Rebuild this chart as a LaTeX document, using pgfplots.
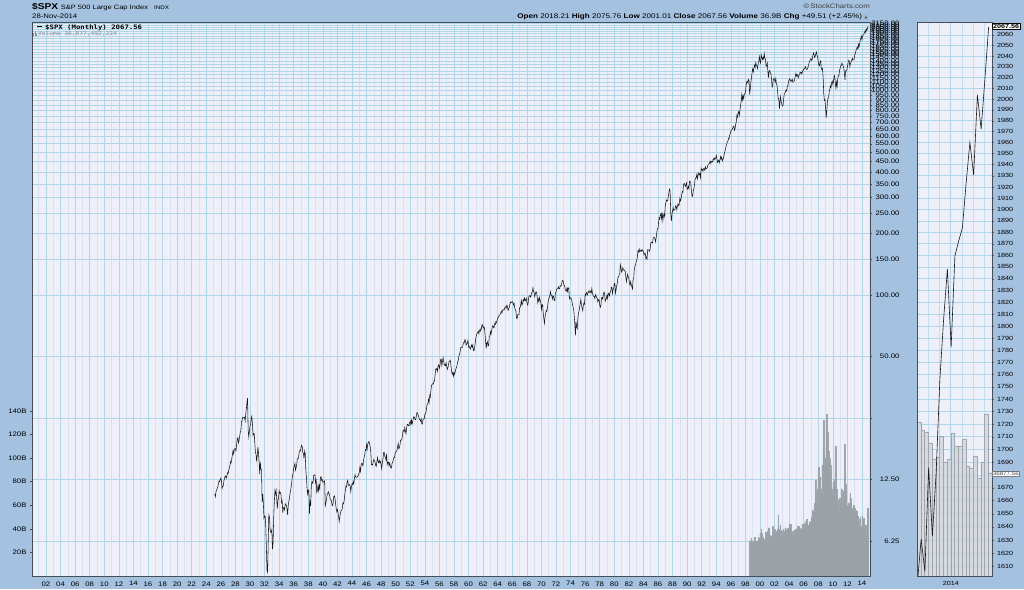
\documentclass[border=0pt]{standalone}
\usepackage{pgfplots}
\pgfplotsset{compat=1.18}
\usepackage{pgfplotstable}
\usepackage{fontspec}
\setmainfont{Liberation Sans}[FakeStretch=1.2]
\newfontfamily\smono{DejaVu Sans Mono}[FakeStretch=1.2]
\newfontfamily\dejavu{DejaVu Sans}

\definecolor{bgblue}{RGB}{164,193,224}
\definecolor{plotbg}{RGB}{238,239,248}
\definecolor{gridmaj}{RGB}{176,214,234}
\definecolor{gridmin}{RGB}{214,225,241}
\definecolor{volfill}{RGB}{172,180,185}
\definecolor{voldraw}{RGB}{150,158,163}
\definecolor{rvolfill}{RGB}{206,210,215}
\definecolor{rvoldraw}{RGB}{160,166,172}
\definecolor{frame}{RGB}{70,78,88}

% S&P 500 monthly closes, Mar 1925 - Nov 2014
\pgfplotstableread[row sep=\\]{
v\\
10.6\\10.3\\10.9\\11.1\\11.3\\11.5\\11.9\\12.3\\12.2\\12.5\\
12.7\\12.3\\11.3\\11.6\\11.6\\12.3\\12.6\\13.0\\13.0\\12.7\\13.0\\13.5\\
13.4\\13.9\\14.2\\14.6\\15.3\\15.1\\15.8\\16.5\\17.3\\16.7\\17.4\\17.7\\
17.6\\17.3\\18.6\\19.8\\20.0\\18.9\\19.4\\20.4\\21.3\\21.7\\24.0\\24.4\\
25.2\\25.1\\25.1\\25.2\\24.2\\26.2\\27.6\\29.8\\31.3\\21.7\\20.2\\21.5\\
22.8\\23.3\\24.8\\25.5\\23.5\\20.5\\21.0\\20.9\\18.7\\16.9\\16.6\\15.3\\
16.4\\18.0\\17.0\\15.2\\13.3\\15.2\\14.0\\14.0\\9.7\\10.6\\9.6\\8.1\\
8.3\\8.3\\7.3\\5.8\\4.5\\4.4\\6.1\\8.4\\8.2\\7.2\\6.9\\6.9\\
7.1\\5.7\\6.1\\8.0\\9.6\\11.0\\10.6\\11.1\\10.1\\9.0\\9.9\\10.1\\
11.0\\10.7\\10.8\\10.6\\9.6\\9.8\\8.6\\9.1\\9.1\\8.9\\9.5\\9.5\\
9.3\\9.0\\8.4\\9.3\\9.8\\10.1\\10.7\\11.1\\11.6\\12.3\\13.1\\13.4\\
14.3\\14.6\\15.0\\13.9\\14.3\\14.8\\15.8\\15.8\\16.1\\17.0\\17.3\\17.2\\
17.9\\18.4\\18.1\\16.9\\16.8\\15.8\\17.2\\16.7\\13.8\\12.8\\11.3\\10.6\\
11.1\\11.0\\8.5\\9.7\\9.3\\11.6\\12.2\\12.0\\12.2\\13.1\\13.1\\13.2\\
12.0\\12.4\\10.8\\11.0\\11.7\\11.0\\11.7\\11.3\\12.8\\12.9\\12.4\\12.5\\
12.1\\12.2\\12.2\\12.3\\9.3\\9.6\\10.0\\10.5\\10.7\\10.9\\10.6\\10.6\\
10.0\\9.9\\9.9\\9.4\\9.3\\9.6\\10.3\\10.4\\10.1\\9.5\\9.0\\8.7\\
8.9\\8.6\\8.2\\7.8\\8.2\\8.6\\8.8\\8.8\\9.0\\9.6\\9.5\\9.8\\
10.5\\11.0\\11.6\\11.5\\12.2\\12.4\\11.7\\11.7\\11.8\\11.6\\10.9\\11.5\\
11.9\\11.8\\12.2\\11.9\\12.6\\13.2\\12.9\\12.8\\12.8\\12.9\\13.0\\13.3\\
13.5\\14.3\\13.7\\14.7\\15.0\\14.9\\14.6\\15.5\\16.1\\16.5\\17.5\\17.4\\
18.5\\17.6\\18.7\\19.0\\19.2\\18.6\\18.1\\17.0\\14.8\\14.8\\14.7\\15.3\\
15.7\\15.4\\15.2\\14.6\\14.5\\15.3\\16.0\\15.4\\15.1\\15.5\\15.1\\15.3\\
14.7\\14.1\\15.1\\15.8\\16.9\\17.0\\16.2\\16.1\\15.6\\16.7\\14.8\\15.2\\
15.2\\14.6\\15.1\\14.7\\14.2\\14.2\\15.0\\15.2\\15.6\\16.0\\16.0\\16.8\\
17.05\\17.22\\17.29\\17.96\\18.78\\17.69\\17.84\\18.42\\19.45\\19.53\\19.51\\20.41\\
21.66\\21.80\\21.40\\22.43\\21.52\\20.96\\22.40\\23.28\\23.26\\22.94\\22.88\\23.77\\
24.14\\23.26\\24.37\\23.32\\23.86\\24.96\\25.40\\25.03\\24.54\\24.52\\25.66\\26.57\\
26.38\\25.90\\25.29\\24.62\\24.54\\24.14\\24.75\\23.32\\23.35\\24.54\\24.76\\24.81\\
26.08\\26.15\\26.94\\28.26\\29.19\\29.21\\30.88\\29.83\\32.31\\31.68\\34.24\\35.98\\
36.63\\36.76\\36.58\\37.96\\37.91\\41.03\\43.52\\43.18\\43.67\\42.34\\45.51\\45.48\\
43.82\\45.34\\48.48\\48.38\\45.20\\46.97\\49.39\\47.51\\45.35\\45.58\\45.08\\46.67\\
44.72\\43.26\\44.11\\45.74\\47.43\\47.37\\47.91\\45.22\\42.42\\41.06\\41.72\\39.99\\
41.70\\40.84\\42.10\\43.44\\44.09\\45.24\\47.19\\47.75\\50.06\\51.33\\52.48\\55.21\\
55.42\\55.41\\55.44\\57.59\\58.68\\58.47\\60.51\\59.60\\56.88\\57.52\\58.28\\59.89\\
55.61\\56.12\\55.34\\54.37\\55.83\\56.92\\55.51\\56.96\\53.52\\53.39\\55.54\\58.11\\
61.78\\63.44\\65.06\\65.31\\66.56\\64.64\\66.76\\68.07\\66.73\\68.62\\71.32\\71.55\\
68.84\\69.96\\69.55\\65.24\\59.63\\54.75\\58.23\\59.12\\56.27\\56.52\\62.26\\63.10\\
66.20\\64.29\\66.57\\69.80\\70.80\\69.37\\69.13\\72.50\\71.70\\74.01\\73.23\\75.02\\
77.04\\77.80\\78.98\\79.46\\80.37\\81.69\\83.18\\81.83\\84.18\\84.86\\84.42\\84.75\\
87.56\\87.43\\86.16\\89.11\\88.42\\84.12\\85.25\\87.17\\89.96\\92.42\\91.61\\92.43\\
92.88\\91.22\\89.23\\91.06\\86.13\\84.74\\83.60\\77.10\\76.56\\80.20\\80.45\\80.33\\
86.61\\86.78\\90.20\\94.01\\89.08\\90.64\\94.75\\93.64\\96.71\\93.90\\94.00\\96.47\\
92.24\\89.36\\90.20\\97.59\\98.68\\99.58\\97.74\\98.86\\102.67\\103.41\\108.37\\103.86\\
103.01\\98.13\\101.51\\103.69\\103.46\\97.71\\91.83\\95.51\\93.12\\97.24\\93.81\\92.06\\
85.02\\89.50\\89.63\\81.52\\76.55\\72.72\\78.05\\81.52\\84.21\\83.25\\87.20\\92.15\\
95.88\\96.75\\100.31\\103.95\\99.63\\99.70\\95.58\\99.03\\98.34\\94.23\\93.99\\102.09\\
103.94\\106.57\\107.20\\107.67\\109.53\\107.14\\107.39\\111.09\\110.55\\111.58\\116.67\\118.05\\
116.03\\111.68\\111.52\\106.97\\104.95\\104.26\\108.22\\104.25\\108.43\\108.29\\95.96\\97.55\\
96.57\\96.22\\93.98\\90.31\\87.28\\86.00\\79.31\\72.15\\63.54\\73.90\\69.97\\68.56\\
76.98\\81.59\\83.36\\87.30\\91.15\\95.19\\88.75\\86.88\\83.87\\89.04\\91.24\\90.19\\
100.86\\99.71\\102.77\\101.64\\100.18\\104.28\\103.44\\102.91\\105.24\\102.90\\102.10\\107.46\\
102.03\\99.82\\98.42\\98.44\\96.12\\100.48\\98.85\\96.77\\96.53\\92.34\\94.83\\95.10\\
89.25\\87.04\\89.21\\96.83\\97.24\\95.53\\100.68\\103.29\\102.54\\93.15\\94.70\\96.11\\
99.93\\96.28\\101.59\\101.76\\99.08\\102.91\\103.81\\109.32\\109.32\\101.82\\106.16\\107.94\\
114.16\\113.66\\102.09\\106.29\\111.24\\114.24\\121.67\\122.38\\125.46\\127.47\\140.52\\135.76\\
129.55\\131.27\\136.00\\132.81\\132.59\\131.21\\130.92\\122.79\\116.18\\121.89\\126.35\\122.55\\
120.40\\113.11\\111.96\\116.44\\111.88\\109.61\\107.09\\119.51\\120.42\\133.71\\138.54\\140.64\\
145.30\\148.06\\152.96\\164.42\\162.39\\168.11\\162.56\\164.40\\166.07\\163.55\\166.40\\164.93\\
163.41\\157.06\\159.18\\160.05\\150.55\\153.18\\150.66\\166.68\\166.10\\166.09\\163.58\\167.24\\
179.63\\181.18\\180.66\\179.83\\189.55\\191.85\\190.92\\188.63\\182.08\\189.82\\202.17\\211.28\\
211.78\\226.92\\238.90\\235.52\\247.35\\250.84\\236.12\\252.93\\231.32\\243.98\\249.22\\242.17\\
274.08\\284.20\\291.70\\288.36\\290.10\\304.00\\318.66\\329.80\\321.83\\251.79\\230.30\\247.08\\
257.07\\267.82\\258.89\\261.33\\262.16\\273.50\\272.02\\261.52\\271.91\\278.97\\273.70\\277.72\\
297.47\\288.86\\294.87\\309.64\\320.52\\317.98\\346.08\\351.45\\349.15\\340.36\\345.99\\353.40\\
329.08\\331.89\\339.94\\330.80\\361.23\\358.02\\356.15\\322.56\\306.05\\304.00\\322.22\\330.22\\
343.93\\367.07\\375.22\\375.35\\389.83\\371.16\\387.81\\395.43\\387.86\\392.46\\375.22\\417.09\\
408.79\\412.70\\403.69\\414.95\\415.35\\408.14\\424.21\\414.03\\417.80\\418.68\\431.35\\435.71\\
438.78\\443.38\\451.67\\440.19\\450.19\\450.53\\448.13\\463.56\\458.93\\467.83\\461.79\\466.45\\
481.61\\467.14\\445.77\\450.91\\456.50\\444.27\\458.26\\475.49\\462.69\\472.35\\453.69\\459.27\\
470.42\\487.39\\500.71\\514.71\\533.40\\544.75\\562.06\\561.88\\584.41\\581.50\\605.37\\615.93\\
636.02\\640.43\\645.50\\654.17\\669.12\\670.63\\639.95\\651.99\\687.31\\705.27\\757.02\\740.74\\
786.16\\790.82\\757.12\\801.34\\848.28\\885.14\\954.29\\899.47\\947.28\\914.62\\955.40\\970.43\\
980.28\\1049.34\\1101.75\\1111.75\\1090.82\\1133.84\\1120.67\\957.28\\1017.01\\1098.67\\1163.63\\1229.23\\
1279.64\\1238.33\\1286.37\\1335.18\\1301.84\\1372.71\\1328.72\\1320.41\\1282.71\\1362.93\\1388.91\\1469.25\\
1394.5\\1366.4\\1498.6\\1452.4\\1420.6\\1454.6\\1430.8\\1517.7\\1436.5\\1429.4\\1315.2\\1320.3\\
1366.0\\1239.9\\1160.3\\1249.5\\1255.8\\1224.4\\1211.2\\1133.6\\1040.9\\1059.8\\1139.5\\1148.1\\
1130.2\\1106.7\\1147.4\\1076.9\\1067.1\\989.8\\911.6\\916.1\\815.3\\885.8\\936.3\\879.8\\
855.7\\841.2\\848.2\\916.9\\963.6\\974.5\\990.3\\1008.0\\996.0\\1050.7\\1058.2\\1111.9\\
1131.1\\1144.9\\1126.2\\1107.3\\1120.7\\1140.8\\1101.7\\1104.2\\1114.6\\1130.2\\1173.8\\1211.9\\
1181.3\\1203.6\\1180.6\\1156.9\\1191.5\\1191.3\\1234.2\\1220.3\\1228.8\\1207.0\\1249.5\\1248.3\\
1280.1\\1280.7\\1294.8\\1310.6\\1270.1\\1270.2\\1276.7\\1303.8\\1335.9\\1377.9\\1400.6\\1418.3\\
1438.2\\1406.8\\1420.9\\1482.4\\1530.6\\1503.4\\1455.3\\1474.0\\1526.8\\1549.4\\1481.1\\1468.4\\
1378.6\\1330.6\\1322.7\\1385.6\\1400.4\\1280.0\\1267.4\\1282.8\\1166.4\\968.8\\896.2\\903.3\\
825.9\\735.1\\797.9\\872.8\\919.1\\919.3\\987.5\\1020.6\\1057.1\\1036.2\\1095.6\\1115.1\\
1073.9\\1104.5\\1169.4\\1186.7\\1089.4\\1030.7\\1101.6\\1049.3\\1141.2\\1183.3\\1180.6\\1257.6\\
1286.1\\1327.2\\1325.8\\1363.6\\1345.2\\1320.6\\1292.3\\1218.9\\1131.4\\1253.3\\1247.0\\1257.6\\
1312.4\\1365.7\\1408.5\\1397.9\\1310.3\\1362.2\\1379.3\\1406.6\\1440.7\\1412.2\\1416.2\\1426.2\\
1498.1\\1514.7\\1569.2\\1597.6\\1630.7\\1606.3\\1685.7\\1633.0\\1681.6\\1756.5\\1805.8\\1848.4\\
1782.6\\1859.5\\1872.3\\1884.0\\1923.6\\1960.2\\1930.7\\2003.4\\1972.3\\2018.1\\2067.6\\
}\spxdata

% monthly volume (billions), Aug 1998 - Nov 2014
\pgfplotstableread[row sep=\\]{
v\\
30\\29\\32\\28\\29\\
30\\28\\31\\33\\30\\29\\30\\29\\30\\33\\31\\32\\
36\\34\\40\\36\\33\\32\\31\\30\\31\\37\\33\\35\\
38\\33\\41\\38\\35\\33\\34\\31\\33\\42\\37\\36\\
40\\37\\36\\38\\37\\40\\52\\40\\38\\43\\39\\35\\
38\\35\\40\\37\\38\\41\\40\\33\\39\\41\\36\\39\\
44\\40\\44\\40\\37\\36\\38\\35\\36\\39\\40\\38\\
40\\39\\42\\42\\40\\41\\38\\39\\40\\44\\40\\38\\
44\\41\\46\\40\\47\\48\\43\\42\\43\\45\\46\\40\\
48\\50\\56\\48\\55\\58\\62\\81\\60\\66\\74\\58\\
92\\72\\84\\70\\64\\74\\94\\68\\110\\132\\100\\92\\
96\\110\\137\\122\\118\\106\\95\\100\\94\\88\\74\\70\\
80\\78\\76\\82\\110\\88\\74\\70\\64\\62\\66\\56\\
66\\64\\74\\58\\66\\72\\64\\112\\84\\78\\70\\58\\
60\\62\\62\\60\\70\\66\\60\\52\\58\\56\\60\\52\\
58\\56\\54\\55\\52\\51\\48\\42\\43\\50\\41\\42\\
51\\46\\46\\49\\39\\39\\43\\35\\41\\58\\37\\
}\voldata

% 2014 inset: monthly closes and volume (billions), Apr 2013 - Nov 2014
\pgfplotstableread[row sep=\\]{
p v\\
1597.57 55.0\\1630.74 52.1\\1606.28 51.4\\1685.73 47.5\\1632.97 41.8\\
1681.55 42.5\\1756.54 50.0\\1805.81 40.7\\1848.36 41.8\\1782.59 51.1\\
1859.45 46.4\\1872.34 46.4\\1883.95 48.9\\1923.57 39.3\\1960.23 38.6\\
1930.67 42.9\\2003.37 35.0\\1972.29 40.7\\2018.05 57.9\\2067.56 36.9\\
}\insetdata

\pgfplotsset{
  tl/.style={font=\fontsize{6.5}{7}\selectfont},
  insetlog/.style={
    y coord trafo/.code={\pgfmathparse{ln(##1)-7.3}},
    y coord inv trafo/.code={\pgfmathparse{exp(##1+7.3)}},
  },
}

\begin{document}
\begin{tikzpicture}[x=1pt,y=1pt]
\useasboundingbox (0,0) rectangle (1024,589);
\fill[bgblue] (0,0) rectangle (1024,589);

% ---------- main price panel ----------
\begin{axis}[
  at={(32pt,13pt)}, anchor=south west, scale only axis,
  width=838pt, height=554pt,
  xmin=1900.08, xmax=2015.1,
  ymode=log, ymin=4.213, ymax=2169,
  axis background/.style={fill=plotbg},
  axis line style={draw=frame, line width=0.6pt},
  xtick={1902,1904,...,2014},
  xticklabels={02,04,06,08,10,12,14,16,18,20,22,24,26,28,30,32,34,36,38,40,42,44,46,48,50,52,54,56,58,60,62,64,66,68,70,72,74,76,78,80,82,84,86,88,90,92,94,96,98,00,02,04,06,08,10,12,14},
  minor xtick={1901,1903,...,2015},
  ytick={6.25,12.5,25,50,100,150,200,250,300,350,400,450,500,550,600,650,700,750,800,850,900,950,1000,1050,1100,1150,1200,1250,1300,1350,1400,1450,1500,1550,1600,1650,1700,1750,1800,1850,1900,1950,2000,2050,2100,2150},
  yticklabels={6.25,12.50,,50.00,100.00,150.00,200.00,250.00,300.00,350.00,400.00,450.00,500.00,550.00,600.00,650.00,700.00,750.00,800.00,850.00,900.00,950.00,1000.00,1050.00,1100.00,1150.00,1200.00,1250.00,1300.00,1350.00,1400.00,1450.00,1500.00,1550.00,1600.00,1650.00,1700.00,1750.00,1800.00,1850.00,1900.00,1950.00,2000.00,2050.00,2100.00,2150.00},
  yminorticks=false,
  xmajorgrids, xminorgrids, ymajorgrids,
  major grid style={gridmaj, line width=0.5pt},
  minor grid style={gridmin, line width=0.5pt},
  xtick pos=bottom, ytick pos=right, yticklabel pos=right,
  tick align=outside, major tick length=2pt, minor tick length=0pt,
  xtick style={draw=none},
  ytick style={draw=frame, line width=0.4pt},
  tick label style={tl, text=black},
  yticklabel style={anchor=east, xshift=31pt},
]
\addplot[black!90, line width=0.55pt] table[x expr={1925+(\coordindex+2)/12}, y=v] {\spxdata};
\end{axis}

% ---------- volume overlay ----------
\begin{axis}[
  at={(32pt,13pt)}, anchor=south west, scale only axis,
  width=838pt, height=554pt,
  xmin=1900.08, xmax=2015.1, ymin=0, ymax=469.5,
  axis line style={draw=none},
  xtick=\empty,
  ytick={20,40,60,80,100,120,140},
  yticklabels={20B,40B,60B,80B,100B,120B,140B},
  ytick pos=left, tick align=outside, major tick length=2pt,
  ytick style={draw=frame, line width=0.4pt},
  tick label style={tl, text=black},
]
\addplot[ybar, bar width=0.0833, bar shift=0pt, fill=volfill, draw=voldraw, line width=0.1pt, fill opacity=0.85, draw opacity=0.85]
  table[x expr={1998+(\coordindex+7)/12}, y=v] {\voldata};
\end{axis}
\draw[frame, line width=0.6pt] (32,13) rectangle (870,567);

% ---------- 2014 inset ----------
\begin{axis}[
  at={(917pt,13pt)}, anchor=south west, scale only axis,
  width=75pt, height=554pt,
  insetlog,
  xmin=0, xmax=20, ymin=1603, ymax=2072.4,
  axis background/.style={fill=plotbg},
  axis line style={draw=frame, line width=0.6pt},
  xtick={9}, xticklabels={2014}, minor xtick={3,6,12,15,18},
  ytick={1610,1620,1630,1640,1650,1660,1670,1680,1690,1700,1710,1720,1730,1740,1750,1760,1770,1780,1790,1800,1810,1820,1830,1840,1850,1860,1870,1880,1890,1900,1910,1920,1930,1940,1950,1960,1970,1980,1990,2000,2010,2020,2030,2040,2050,2060},
  yticklabels={1610,1620,1630,1640,1650,1660,1670,1680,1690,1700,1710,1720,1730,1740,1750,1760,1770,1780,1790,1800,1810,1820,1830,1840,1850,1860,1870,1880,1890,1900,1910,1920,1930,1940,1950,1960,1970,1980,1990,2000,2010,2020,2030,2040,2050,2060},
  xmajorgrids, xminorgrids, ymajorgrids,
  major grid style={gridmaj, line width=0.6pt},
  minor grid style={gridmaj!80, line width=0.5pt},
  xtick pos=bottom, ytick pos=right, yticklabel pos=right,
  tick align=outside, major tick length=1.5pt, minor tick length=0pt,
  xtick style={draw=none},
  ytick style={draw=frame, line width=0.4pt},
  tick label style={font=\fontsize{6}{7}\selectfont, text=black},
]
\addplot[draw=none] coordinates {(0,1700)};
\end{axis}
\begin{axis}[
  at={(917pt,13pt)}, anchor=south west, scale only axis,
  width=75pt, height=554pt,
  xmin=0, xmax=20, ymin=0, ymax=197.9,
  hide axis,
]
\addplot[ybar, bar width=1, bar shift=0pt, fill=rvolfill, draw=rvoldraw, line width=0.25pt, fill opacity=0.7]
  table[x expr={\coordindex+0.5}, y=v] {\insetdata};
\end{axis}
\begin{axis}[
  at={(917pt,13pt)}, anchor=south west, scale only axis,
  width=75pt, height=554pt,
  insetlog,
  xmin=0, xmax=20, ymin=1603, ymax=2072.4,
  hide axis,
]
\addplot[black!90, line width=0.6pt] table[x expr={\coordindex+0.1}, y=p] {\insetdata};
\end{axis}
\draw[frame, line width=0.6pt] (917,13) rectangle (992,567);

% ---------- price tags ----------
\node[draw=black, fill=white, line width=0.5pt, inner sep=0.8pt, anchor=west,
      font=\fontsize{6}{6}\selectfont\bfseries] at (992,563) {2067.56};
\node[draw=gray, fill=white, line width=0.4pt, inner sep=0.6pt, anchor=west,
      font=\fontsize{5.2}{5.2}\selectfont, text=black!70] at (992,115.7) {36877.56};

% ---------- header ----------
\node[anchor=base west, inner sep=0pt, font=\fontsize{8.5}{9}\selectfont\bfseries] at (32,579) {\$SPX};
\node[anchor=base west, inner sep=0pt, font=\fontsize{6.25}{7}\selectfont] at (60.7,579) {S\&P 500 Large Cap Index};
\node[anchor=base west, inner sep=0pt, font=\fontsize{5.2}{6}\selectfont] at (154,579) {INDX};
\node[anchor=base west, inner sep=0pt, font=\fontsize{6.5}{7}\selectfont] at (32,570) {28-Nov-2014};

\node[anchor=base east, inner sep=0pt, font=\fontsize{6.5}{7}\selectfont, text=black!75] at (870,580) {\textcopyright\,StockCharts.com};
\node[anchor=base east, inner sep=0pt, font=\fontsize{6.75}{7}\selectfont] at (868,570.7)
  {\textbf{Open} 2018.21 \textbf{High} 2075.76 \textbf{Low} 2001.01 \textbf{Close} 2067.56 \textbf{Volume} 36.9B \textbf{Chg} +49.51 (+2.45\%) {\dejavu\fontsize{4.5}{5}\selectfont\color{black!60}▲}};

% ---------- legend ----------
\draw[black, line width=0.9pt] (37.3,562.3) -- (41.7,562.3);
\node[anchor=base west, inner sep=0pt, font=\fontsize{6.1}{7}\smono\bfseries] at (45,559.7) {\$SPX (Monthly) 2067.56};
\fill[black!45] (33.2,553.3) rectangle (34.2,556.3);
\fill[black!45] (34.7,553.3) rectangle (35.7,557.8);
\fill[black!45] (36.2,553.3) rectangle (37.2,555.3);
\node[anchor=base west, inner sep=0pt, font=\fontsize{5.2}{6}\smono, text={rgb,255:red,140;green,146;blue,160}] at (37.8,553.3) {Volume 36,877,492,224};
\end{tikzpicture}
\end{document}
